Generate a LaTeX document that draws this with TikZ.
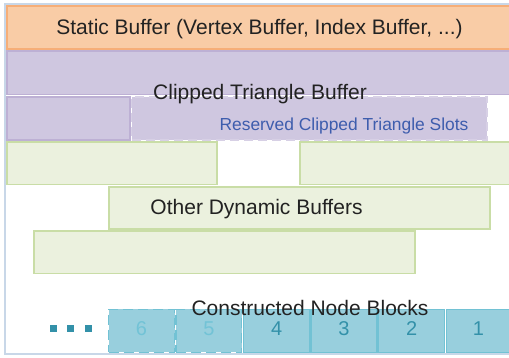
\documentclass[tikz,border=0pt]{standalone}
\usepackage{fontspec}
\setmainfont{Liberation Sans}
\definecolor{framec}{HTML}{C8D7E8}
\definecolor{orfill}{HTML}{F9CCA6}
\definecolor{ordraw}{HTML}{F6AE78}
\definecolor{pufill}{HTML}{CFC7E0}
\definecolor{pudraw}{HTML}{BDB0D4}
\definecolor{grfill}{HTML}{EBF1DE}
\definecolor{grdraw}{HTML}{C9DDA6}
\definecolor{blfill}{HTML}{98CFDD}
\definecolor{bldraw}{HTML}{72C2D4}
\definecolor{digc}{HTML}{3391A9}
\definecolor{diglight}{HTML}{72C3D6}
\definecolor{bluetext}{HTML}{3E5DAD}
\definecolor{txt}{HTML}{222222}
\newcommand{\bx}[6]{\node[#2, minimum width={(#5-#3)*1pt}, minimum height={(#6-#4)*1pt}] (#1) at (#3,#4) {};}
\tikzset{
  buf/.style={rectangle, inner sep=0pt, outer sep=0pt, line width=1.5pt, anchor=north west},
  orbox/.style={buf, fill=orfill, draw=ordraw},
  pubox/.style={buf, fill=pufill, draw=pudraw},
  pudash/.style={buf, fill=pufill, draw=white!40!pudraw, dash pattern=on 9pt off 5pt},
  grbox/.style={buf, fill=grfill, draw=grdraw},
  blbox/.style={buf, fill=blfill, draw=bldraw},
  bldash/.style={buf, fill=blfill, draw=bldraw, dash pattern=on 10pt off 5pt},
  lbl/.style={inner sep=0pt, anchor=base, text=txt, font=\fontsize{21}{25}\selectfont},
  rlbl/.style={inner sep=0pt, anchor=base, text=bluetext, font=\fontsize{17.4}{21}\selectfont},
  dig/.style={inner sep=0pt, anchor=base, text=digc, font=\fontsize{20}{24}\selectfont},
  diglt/.style={dig, text=diglight},
  dot/.style={rectangle, inner sep=0pt, minimum size=7pt, fill=digc},
}
\begin{document}
\begin{tikzpicture}[x=1pt, y=-1pt]
\useasboundingbox (0,0) rectangle (509,358);
\draw[framec, line width=2pt] (520,4) -- (5,4) -- (5,354.3) -- (520,354.3);
% static
\bx{static}{orbox}{7}{6}{515}{49}
\node[lbl] (statict) at (259.5,34.3) {Static Buffer (Vertex Buffer, Index Buffer, ...)};
% clipped triangle
\bx{clip}{pubox}{7}{51}{515}{94.5}
\bx{clipa}{pubox}{7}{97}{130}{140}
\bx{clipr}{pudash}{131.5}{97}{487}{140}
\node[lbl] (clipt) at (260,99.3) {Clipped Triangle Buffer};
\node[rlbl] (clipr t) at (344,130.7) {Reserved Clipped Triangle Slots};
% other dynamic
\bx{g1}{grbox}{7}{142}{217}{184.3}
\bx{g2}{grbox}{300}{142}{515}{184.3}
\bx{g3}{grbox}{109}{186.8}{490}{229.2}
\bx{g4}{grbox}{34}{231}{415}{273.3}
\node[lbl] (gt) at (256.5,214.3) {Other Dynamic Buffers};
% node blocks
\bx{b6}{bldash}{108.5}{309.5}{174.5}{352.3}
\bx{b5}{bldash}{176}{309.5}{241.7}{352.3}
\bx{b4}{blbox}{243.7}{309.5}{309.5}{352.3}
\bx{b3}{blbox}{311}{309.5}{377}{352.3}
\bx{b2}{blbox}{378.7}{309.5}{444.7}{352.3}
\bx{b1}{blbox}{446.3}{309.5}{515}{352.3}
\node[diglt] (d6) at (141.5,335.7) {6};
\node[diglt] (d5) at (209,335.7) {5};
\node[dig] (d4) at (276.6,335.7) {4};
\node[dig] (d3) at (344,335.7) {3};
\node[dig] (d2) at (411.7,335.7) {2};
\node[dig] (d1) at (478.5,335.7) {1};
\node[lbl] (bt) at (310,315.7) {Constructed Node Blocks};
\node[dot] (p1) at (53.3,328.5) {};
\node[dot] (p2) at (70.5,328.5) {};
\node[dot] (p3) at (88.5,328.5) {};
\end{tikzpicture}
\end{document}
